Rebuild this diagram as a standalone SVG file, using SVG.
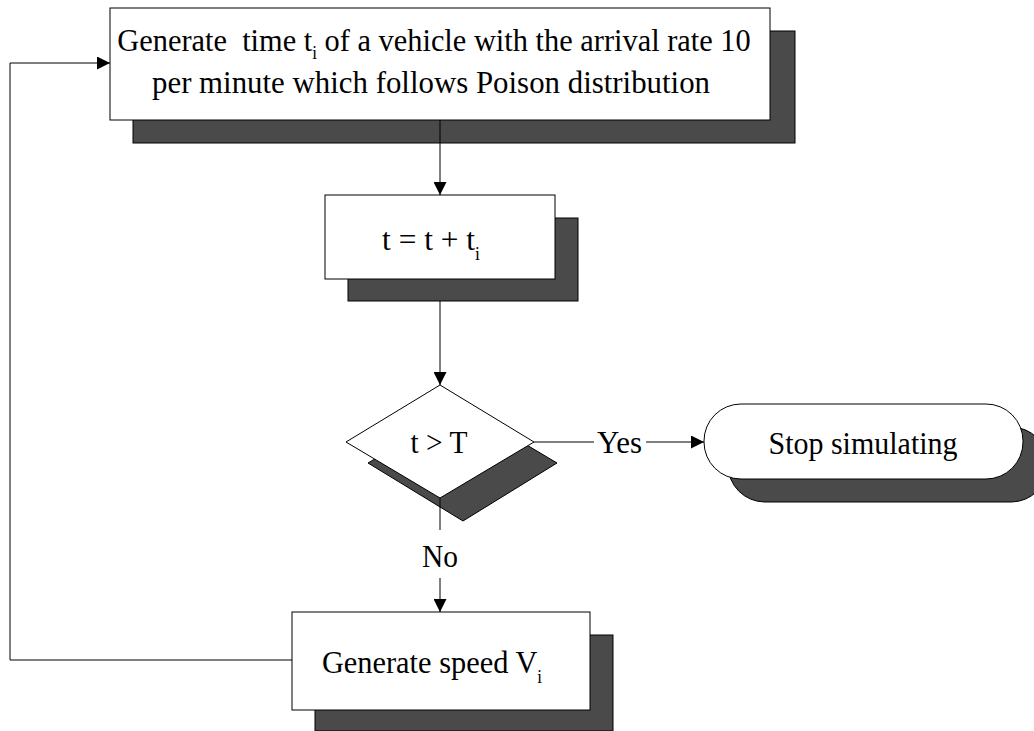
<svg xmlns="http://www.w3.org/2000/svg" width="1034" height="731" viewBox="0 0 1034 731">
<style>
.box{fill:#fff;stroke:#000;stroke-width:1}
.sh{fill:#4a4a4a;stroke:#000;stroke-width:1}
.ln{fill:none;stroke:#000;stroke-width:1}
.t{font-family:"Liberation Serif","Times New Roman",serif;font-size:32px;fill:#000}
.sub{font-size:18px}
</style>
<defs>
<marker id="ah" viewBox="0 0 13 13" refX="13" refY="6.5" markerWidth="13" markerHeight="13" markerUnits="userSpaceOnUse" orient="auto">
<path d="M0,0 L13,6.5 L0,13 z" fill="#000"/>
</marker>
</defs>
<rect width="1034" height="731" fill="#fff"/>
<g id="n1">
<rect class="sh" x="133" y="31" width="662" height="112"/>
<rect class="box" x="110" y="8" width="660" height="112"/>
<text class="t" x="434" y="51" text-anchor="middle" xml:space="preserve" transform="matrix(0.95 0 0 1 21.7 0)">Generate  time t<tspan class="sub" dy="8">i</tspan><tspan dy="-8"> of a vehicle with the arrival rate 10</tspan></text>
<text class="t" x="431" y="93" text-anchor="middle" textLength="558" lengthAdjust="spacingAndGlyphs">per minute which follows Poison distribution</text>
</g>
<g id="n2">
<rect class="sh" x="348" y="218" width="230" height="83"/>
<rect class="box" x="325" y="195" width="230" height="84"/>
<text class="t" x="431" y="250" text-anchor="middle" transform="matrix(0.98 0 0 1 8.6 0)">t = t + t<tspan class="sub" dy="10">i</tspan></text>
</g>
<g id="n3">
<polygon class="sh" points="463,407 557,463 463,521 368,463"/>
<polygon class="box" points="440,385 534,442 440,498 346,442"/>
<text class="t" x="439" y="453" text-anchor="middle" textLength="57" lengthAdjust="spacingAndGlyphs">t &gt; T</text>
</g>
<g id="n4">
<rect class="sh" x="728" y="427" width="320" height="75" rx="37" ry="37"/>
<rect class="box" x="704" y="404" width="319" height="75" rx="37" ry="37"/>
<text class="t" x="863" y="454" text-anchor="middle" textLength="189" lengthAdjust="spacingAndGlyphs">Stop simulating</text>
</g>
<g id="n5">
<rect class="sh" x="315" y="635" width="298" height="96"/>
<rect class="box" x="292" y="612" width="298" height="98"/>
<text class="t" x="432" y="673" text-anchor="middle" transform="matrix(0.95 0 0 1 21.6 0)">Generate speed V<tspan class="sub" dy="10">i</tspan></text>
</g>
<g id="connectors">
<line class="ln" x1="440" y1="120" x2="440" y2="195" marker-end="url(#ah)"/>
<line class="ln" x1="440" y1="301" x2="440" y2="385" marker-end="url(#ah)"/>
<line class="ln" x1="534" y1="442" x2="594" y2="442"/>
<line class="ln" x1="646" y1="442" x2="704" y2="442" marker-end="url(#ah)"/>
<text class="t" x="619.5" y="453" text-anchor="middle" textLength="45" lengthAdjust="spacingAndGlyphs">Yes</text>
<line class="ln" x1="440" y1="498" x2="440" y2="530"/>
<text class="t" x="440" y="567" text-anchor="middle" textLength="36" lengthAdjust="spacingAndGlyphs">No</text>
<line class="ln" x1="440" y1="578" x2="440" y2="612" marker-end="url(#ah)"/>
<polyline class="ln" points="292,660 10,660 10,63 110,63" marker-end="url(#ah)"/>
</g>
</svg>
